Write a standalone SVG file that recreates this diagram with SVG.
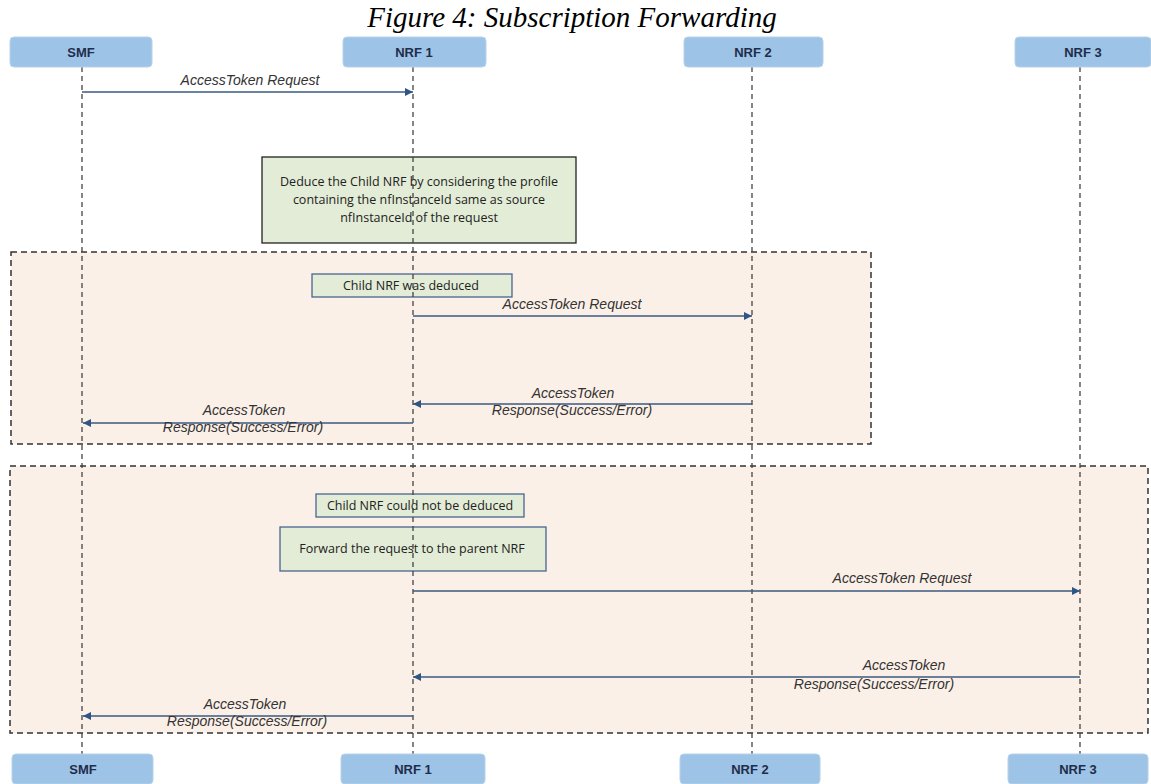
<svg xmlns="http://www.w3.org/2000/svg" width="1151" height="784" viewBox="0 0 1151 784">
<style>
.node rect{fill:#9dc3e6;stroke:#b7d2ea;stroke-width:1}
.node text{font-family:"Liberation Sans",Arial,sans-serif;font-weight:bold;font-size:13px;fill:#1f2d4a;text-anchor:middle}
.life{stroke:#444;stroke-width:1.3;stroke-dasharray:5,4;fill:none}
.region{fill:#fbf0e8;stroke:#333;stroke-width:1.5;stroke-dasharray:6,4}
.note rect{fill:#e2ecd6;stroke:#4a6590;stroke-width:1.3}
.note text{font-family:"Open Sans","Liberation Sans",sans-serif;font-size:12.5px;fill:#222;text-anchor:middle}
.msg line{stroke:#3b5a80;stroke-width:1.6}
.lbl{font-family:"Liberation Sans",Arial,sans-serif;font-style:italic;font-size:14px;fill:#333;text-anchor:middle}
</style>
<defs>
<marker id="ah" viewBox="0 0 10 10" refX="10" refY="5" markerWidth="8" markerHeight="8" markerUnits="userSpaceOnUse" orient="auto">
<path d="M0,0 L10,5 L0,10 z" fill="#2e5585"/>
</marker>
</defs>
<rect width="1151" height="784" fill="#fff"/>
<text x="572" y="27" font-family="Liberation Serif,Times New Roman,serif" font-style="italic" font-size="29" text-anchor="middle" fill="#000">Figure 4: Subscription Forwarding</text>

<rect class="region" x="11" y="252" width="860" height="192"/>
<rect class="region" x="10" y="466" width="1138" height="267"/>

<g id="note-deduce" class="note">
<rect x="262" y="157" width="314" height="86" style="stroke:#222"/>
<text x="419" y="186">Deduce the Child NRF by considering the profile</text>
<text x="419" y="204">containing the nfInstanceId same as source</text>
<text x="419" y="222">nfInstanceId of the request</text>
</g>
<g id="note-deduced" class="note">
<rect x="312" y="274" width="200" height="23"/>
<text x="411" y="290">Child NRF was deduced</text>
</g>
<g id="note-notdeduced" class="note">
<rect x="316" y="494" width="208" height="23"/>
<text x="420" y="510">Child NRF could not be deduced</text>
</g>
<g id="note-forward" class="note">
<rect x="280" y="527" width="266" height="44"/>
<text x="412" y="553">Forward the request to the parent NRF</text>
</g>

<g id="lifelines">
<line class="life" x1="82" y1="67" x2="82" y2="754"/>
<line class="life" x1="413" y1="67" x2="413" y2="754"/>
<line class="life" x1="752" y1="67" x2="752" y2="754"/>
<line class="life" x1="1080" y1="67" x2="1080" y2="754"/>
</g>

<g id="connectors" class="msg">
<line x1="82" y1="92" x2="413" y2="92" marker-end="url(#ah)"/>
<text class="lbl" x="250" y="85">AccessToken Request</text>
<line x1="413" y1="316" x2="752" y2="316" marker-end="url(#ah)"/>
<text class="lbl" x="572" y="309">AccessToken Request</text>
<line x1="752" y1="404" x2="413" y2="404" marker-end="url(#ah)"/>
<text class="lbl" x="573" y="398">AccessToken</text>
<text class="lbl" x="572" y="415">Response(Success/Error)</text>
<line x1="413" y1="423" x2="83" y2="423" marker-end="url(#ah)"/>
<text class="lbl" x="244" y="415">AccessToken</text>
<text class="lbl" x="243" y="432">Response(Success/Error)</text>
<line x1="413" y1="591" x2="1080" y2="591" marker-end="url(#ah)"/>
<text class="lbl" x="902" y="583">AccessToken Request</text>
<line x1="1080" y1="677" x2="413" y2="677" marker-end="url(#ah)"/>
<text class="lbl" x="904" y="670">AccessToken</text>
<text class="lbl" x="874" y="689">Response(Success/Error)</text>
<line x1="413" y1="716" x2="83" y2="716" marker-end="url(#ah)"/>
<text class="lbl" x="245" y="709">AccessToken</text>
<text class="lbl" x="247" y="726">Response(Success/Error)</text>
</g>

<g id="smf-top" class="node"><rect x="10" y="37" width="142" height="30" rx="4"/><text x="81" y="57">SMF</text></g>
<g id="nrf1-top" class="node"><rect x="343" y="37" width="143" height="30" rx="4"/><text x="414" y="57">NRF 1</text></g>
<g id="nrf2-top" class="node"><rect x="684" y="37" width="139" height="30" rx="4"/><text x="753" y="57">NRF 2</text></g>
<g id="nrf3-top" class="node"><rect x="1015" y="37" width="136" height="30" rx="4"/><text x="1083" y="57">NRF 3</text></g>

<g id="smf-bottom" class="node"><rect x="12" y="754" width="141" height="30" rx="4"/><text x="83" y="774">SMF</text></g>
<g id="nrf1-bottom" class="node"><rect x="341" y="754" width="144" height="30" rx="4"/><text x="413" y="774">NRF 1</text></g>
<g id="nrf2-bottom" class="node"><rect x="680" y="754" width="140" height="30" rx="4"/><text x="750" y="774">NRF 2</text></g>
<g id="nrf3-bottom" class="node"><rect x="1008" y="754" width="140" height="30" rx="4"/><text x="1078" y="774">NRF 3</text></g>
</svg>
